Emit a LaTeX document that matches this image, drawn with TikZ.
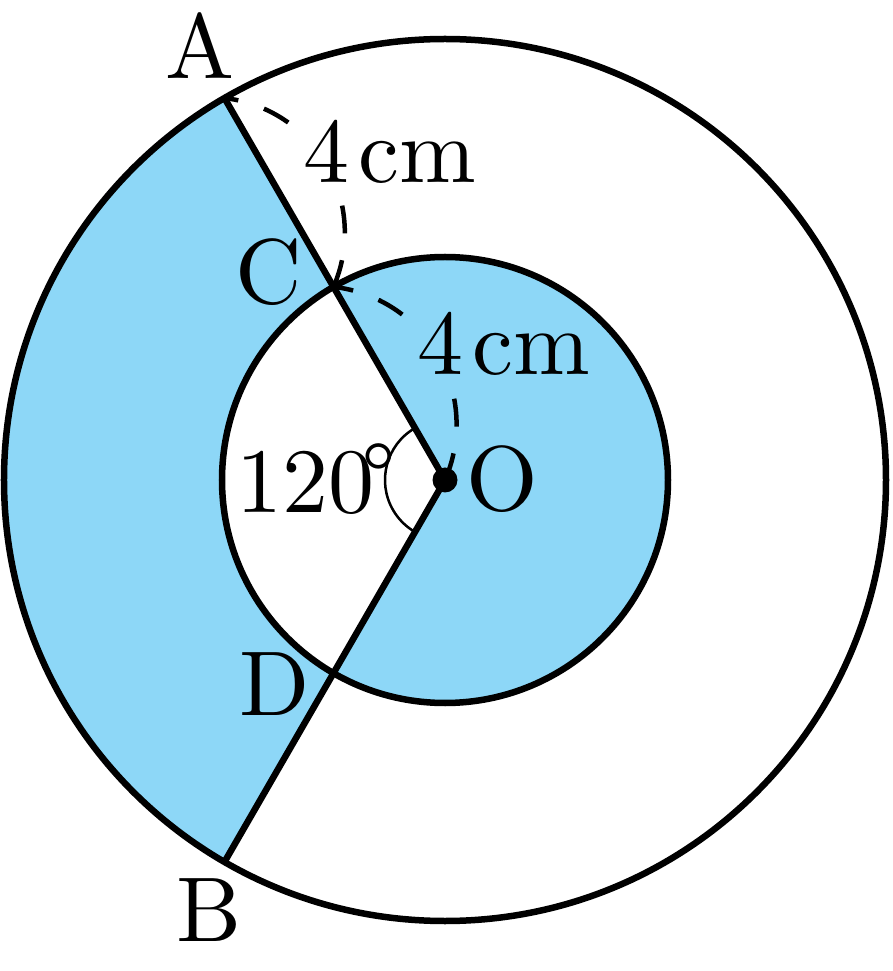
\documentclass[tikz,border=0pt]{standalone}
\usepackage{fontspec}
\setmainfont{lmroman10-regular.otf}
\definecolor{skyfill}{HTML}{8DD7F7}
\begin{document}
\begin{tikzpicture}[x=1pt,y=1pt,
  heavy/.style={line width=6.5pt},
  lbl/.style={inner sep=0pt, font=\fontsize{92}{100}\selectfont},
  dashline/.style={line width=4.5pt, dash pattern=on 28pt off 27pt}]
\useasboundingbox (-445,-491) rectangle (448,480);
\coordinate (O) at (0,0);
\coordinate (A) at (120:441);
\coordinate (B) at (240:441);
\coordinate (C) at (120:223);
\coordinate (D) at (240:223);
% shaded regions
\fill[skyfill] (A) arc[start angle=120,end angle=240,radius=441] -- (D)
  arc[start angle=240,end angle=120,radius=223] -- cycle;
\fill[skyfill] (O) -- (D) arc[start angle=-120,end angle=120,radius=223] -- cycle;
% dashed measuring arcs
\draw[dashline,dash phase=14pt] (A) arc[start angle=83.6,end angle=30,radius=135.5];
\draw[dashline] (C) arc[start angle=-23.6,end angle=30,radius=135.5];
\draw[dashline,dash phase=8pt] (C) arc[start angle=83.6,end angle=30,radius=138.6];
\draw[dashline] (O) arc[start angle=-23.6,end angle=30,radius=138.6];
% length labels
\node[lbl,fill=white,anchor=base west] (l1) at (-142,297) {4\hspace{0.1em}cm};
\node[lbl,fill=skyfill,anchor=base west] (l2) at (-28,105) {4\hspace{0.1em}cm};
% circles and radii
\draw[heavy] (O) circle[radius=441];
\draw[heavy] (O) circle[radius=223];
\draw[heavy] (A) -- (O) -- (B);
\draw[line width=2.5pt] (120:60) arc[start angle=120,end angle=240,radius=60];
\fill (O) circle[radius=12.5];
% point labels
\node[lbl] (lA) at (-245,434.5) {A};
\node[lbl] (lC) at (-176.5,207.5) {C};
\node[lbl] (lD) at (-170,-204.5) {D};
\node[lbl] (lB) at (-236,-430) {B};
\node[lbl] (lO) at (57,0.5) {O};
\node[lbl,anchor=base west] (ang) at (-209,-33) {120\kern-13pt\raisebox{6pt}{°}};
\end{tikzpicture}
\end{document}
